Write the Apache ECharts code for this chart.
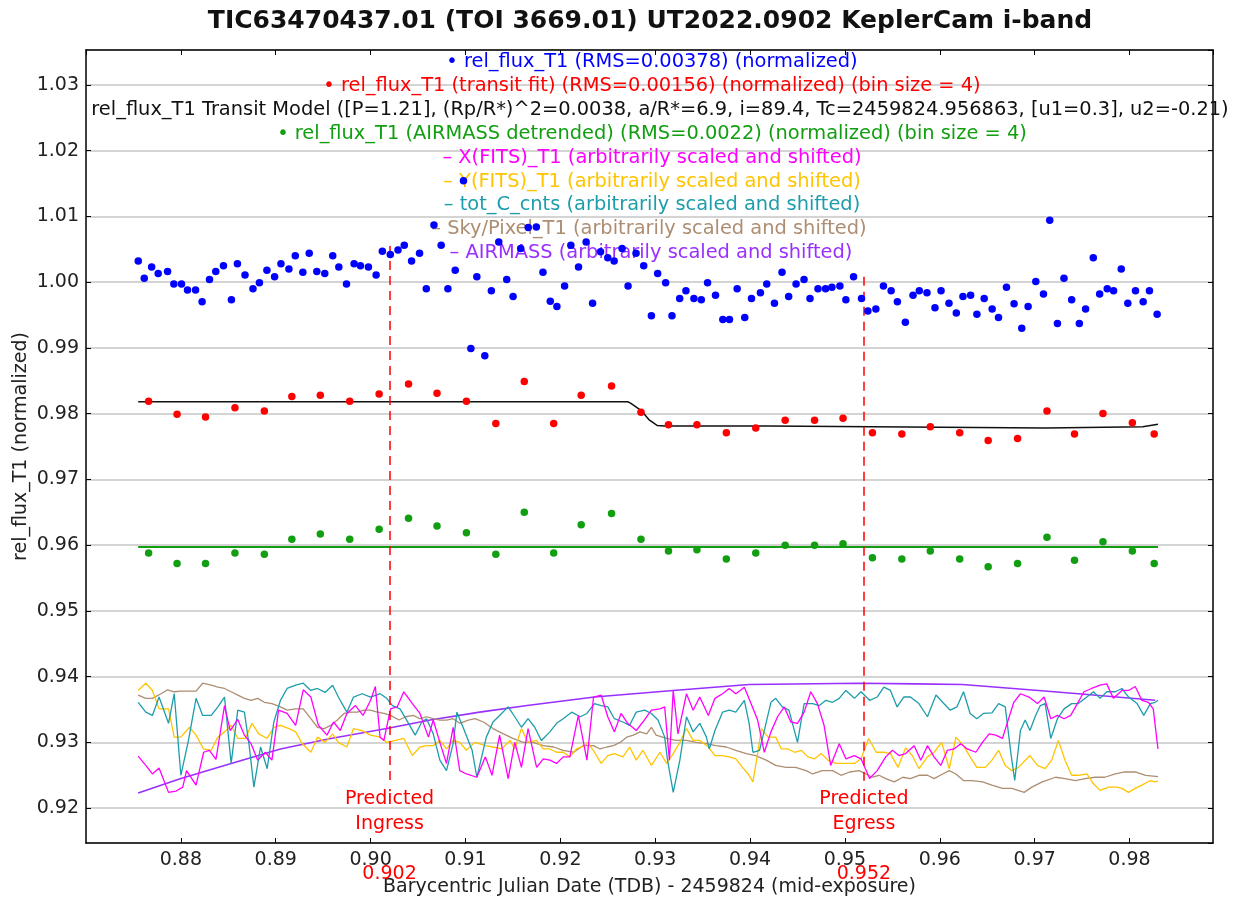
<!DOCTYPE html>
<html><head><meta charset="utf-8">
<script src="https://cdn.jsdelivr.net/npm/echarts@6/dist/echarts.min.js"></script>
<style>html,body{margin:0;padding:0;background:#fff}#c{width:1239px;height:905px}</style>
</head><body><div id="c"></div>
<script>
// ---------------- DATA ----------------
const chartTitle = 'TIC63470437.01 (TOI 3669.01) UT2022.0902 KeplerCam i-band';
const xAxisTitle = 'Barycentric Julian Date (TDB) - 2459824 (mid-exposure)';
const yAxisTitle = 'rel_flux_T1 (normalized)';
const predictedTimes = [0.902, 0.952];
const predictedLabels = ['Predicted\nIngress', 'Predicted\nEgress'];
const predictedTop = [1.0055, 1.0008];
const predictedBottom = 0.9238;

const timeObs = [0.87551,0.87614,0.87692,0.87761,0.87860,0.87926,0.88007,0.88070,0.88155,0.88224,
0.88302,0.88368,0.88449,0.88533,0.88596,0.88676,0.88760,0.88828,0.88907,0.88988,
0.89055,0.89139,0.89206,0.89286,0.89353,0.89433,0.89517,0.89601,0.89665,0.89746,
0.89826,0.89893,0.89977,0.90058,0.90124,0.90208,0.90289,0.90355,0.90432,0.90516,
0.90587,0.90668,0.90744,0.90815,0.90892,0.90979,0.91057,0.91120,0.91204,0.91273,
0.91351,0.91435,0.91502,0.91582,0.91662,0.91747,0.91817,0.91894,0.91964,0.92045,
0.92111,0.92192,0.92272,0.92340,0.92424,0.92500,0.92567,0.92651,0.92714,0.92798,
0.92879,0.92960,0.93026,0.93110,0.93177,0.93258,0.93324,0.93408,0.93486,0.93552,
0.93636,0.93713,0.93783,0.93864,0.93944,0.94015,0.94109,0.94176,0.94257,0.94337,
0.94407,0.94485,0.94569,0.94632,0.94716,0.94796,0.94863,0.94947,0.95010,0.95091,
0.95175,0.95242,0.95326,0.95406,0.95487,0.95553,0.95637,0.95718,0.95784,0.95865,
0.95949,0.96013,0.96097,0.96174,0.96244,0.96325,0.96391,0.96468,0.96552,0.96619,
0.96703,0.96783,0.96864,0.96931,0.97012,0.97093,0.97159,0.97240,0.97309,0.97390,
0.97471,0.97537,0.97618,0.97685,0.97765,0.97832,0.97913,0.97982,0.98063,0.98144,
0.98210,0.98291];

const relFlux = [1.0032,1.0006,1.0023,1.0013,1.0016,0.9997,0.9997,0.9988,0.9988,0.9970,
1.0004,1.0016,1.0025,0.9973,1.0028,1.0011,0.9990,0.9999,1.0018,1.0008,
1.0028,1.0020,1.0040,1.0015,1.0044,1.0016,1.0013,1.0040,1.0023,0.9997,
1.0028,1.0025,1.0023,1.0011,1.0047,1.0042,1.0049,1.0056,1.0032,1.0044,
0.9990,1.0087,1.0056,0.9990,1.0018,1.0154,0.9899,1.0008,0.9888,0.9987,
1.0061,1.0004,0.9978,1.0051,1.0083,1.0084,1.0015,0.9971,0.9963,0.9994,
1.0056,1.0023,1.0061,0.9968,1.0046,1.0037,1.0032,1.0051,0.9994,1.0044,
1.0025,0.9949,1.0013,0.9999,0.9949,0.9975,0.9987,0.9975,0.9973,0.9999,
0.9980,0.9943,0.9943,0.9990,0.9946,0.9975,0.9984,0.9997,0.9968,1.0015,
0.9978,0.9997,1.0004,0.9975,0.9990,0.9990,0.9992,0.9994,0.9973,1.0008,
0.9975,0.9956,0.9959,0.9994,0.9987,0.9970,0.9939,0.9980,0.9987,0.9984,
0.9961,0.9987,0.9968,0.9953,0.9978,0.9980,0.9951,0.9975,0.9959,0.9946,
0.9992,0.9967,0.9930,0.9963,1.0001,0.9982,1.0094,0.9937,1.0006,0.9973,
0.9937,0.9959,1.0037,0.9982,0.9990,0.9987,1.0020,0.9968,0.9987,0.9970,
0.9987,0.9951];

const binTime = [0.8766,0.8796,0.8826,0.8857,0.8888,0.8917,0.8947,0.8978,0.9009,0.9040,
0.9070,0.9101,0.9132,0.9162,0.9193,0.9222,0.9254,0.9285,0.9314,0.9344,
0.9375,0.9406,0.9437,0.9468,0.9498,0.9529,0.9560,0.9590,0.9621,0.9651,
0.9682,0.9713,0.9742,0.9772,0.9803,0.9826];
const binFlux = [0.9819,0.9799,0.9795,0.9809,0.9804,0.9826,0.9828,0.9819,0.9830,0.9845,
0.9831,0.9819,0.9785,0.9849,0.9785,0.9828,0.9842,0.9802,0.9783,0.9783,
0.9771,0.9778,0.9790,0.9790,0.9793,0.9771,0.9769,0.9780,0.9771,0.9759,
0.9762,0.9804,0.9769,0.9800,0.9786,0.9769];
const detrendedFlux = [0.9588,0.9572,0.9572,0.9588,0.9586,0.9609,0.9617,0.9609,0.9624,0.9641,
0.9629,0.9619,0.9586,0.9650,0.9588,0.9631,0.9648,0.9609,0.9591,0.9593,
0.9579,0.9588,0.9600,0.9600,0.9602,0.9581,0.9579,0.9591,0.9579,0.9567,
0.9572,0.9612,0.9577,0.9605,0.9591,0.9572];

const modelLine = [[0.8755,0.9818],[0.9271,0.9818],[0.9274,0.9816],[0.9285,0.9805],[0.9294,0.9790],
[0.9302,0.9782],[0.9310,0.9781],[0.9418,0.9781],[0.9420,0.9778],[0.9712,0.9778],[0.9714,0.9780],
[0.9814,0.9780],[0.9816,0.9783],[0.9830,0.9784]];
const detrendedModelLine = [[0.8755,0.9597],[0.9830,0.9597]];

const xFitsT1 = [[0.8755,0.9279],[0.8763,0.9265],[0.8770,0.9252],[0.8777,0.9261],[0.8787,0.9224],[0.8795,0.9226],
[0.8802,0.9232],[0.8806,0.9257],[0.8816,0.9235],[0.8824,0.9285],[0.8830,0.9288],[0.8837,0.9274],[0.8846,0.9356],
[0.8852,0.9318],[0.8860,0.9335],[0.8867,0.9311],[0.8874,0.9298],[0.8881,0.9273],[0.8889,0.9285],[0.8896,0.9273],
[0.8903,0.9349],[0.8912,0.9344],[0.8921,0.9326],[0.8929,0.9380],[0.8937,0.9369],[0.8945,0.9326],[0.8954,0.9311],
[0.8961,0.9331],[0.8968,0.9318],[0.8975,0.9344],[0.8984,0.9356],[0.8992,0.9341],[0.9000,0.9364],[0.9005,0.9385],
[0.9010,0.9308],[0.9014,0.9303],[0.9021,0.9351],[0.9028,0.9354],[0.9035,0.9377],[0.9044,0.9359],[0.9052,0.9344],
[0.9061,0.9308],[0.9066,0.9334],[0.9073,0.9300],[0.9080,0.9268],[0.9087,0.9323],[0.9094,0.9257],[0.9101,0.9252],
[0.9112,0.9247],[0.9121,0.9278],[0.9128,0.9250],[0.9136,0.9311],[0.9145,0.9245],[0.9152,0.9300],[0.9159,0.9262],
[0.9166,0.9321],[0.9175,0.9262],[0.9182,0.9275],[0.9189,0.9273],[0.9196,0.9268],[0.9203,0.9278],[0.9210,0.9278],
[0.9219,0.9341],[0.9228,0.9273],[0.9235,0.9369],[0.9243,0.9372],[0.9250,0.9339],[0.9257,0.9316],[0.9264,0.9344],
[0.9271,0.9329],[0.9280,0.9318],[0.9287,0.9331],[0.9296,0.9349],[0.9305,0.9351],[0.9310,0.9354],[0.9315,0.9273],
[0.9319,0.9379],[0.9324,0.9313],[0.9333,0.9374],[0.9340,0.9349],[0.9347,0.9369],[0.9356,0.9341],[0.9363,0.9367],
[0.9371,0.9374],[0.9378,0.9382],[0.9385,0.9374],[0.9394,0.9384],[0.9401,0.9359],[0.9408,0.9334],[0.9415,0.9285],
[0.9422,0.9316],[0.9429,0.9339],[0.9436,0.9354],[0.9443,0.9331],[0.9450,0.9329],[0.9457,0.9346],[0.9464,0.9377],
[0.9471,0.9359],[0.9478,0.9326],[0.9485,0.9265],[0.9494,0.9298],[0.9501,0.9275],[0.9510,0.9280],[0.9517,0.9275],
[0.9526,0.9245],[0.9534,0.9257],[0.9543,0.9278],[0.9550,0.9288],[0.9557,0.9280],[0.9564,0.9283],[0.9573,0.9295],
[0.9580,0.9273],[0.9587,0.9295],[0.9594,0.9278],[0.9601,0.9265],[0.9608,0.9288],[0.9615,0.9290],[0.9622,0.9298],
[0.9629,0.9290],[0.9638,0.9285],[0.9645,0.9300],[0.9652,0.9313],[0.9659,0.9311],[0.9666,0.9306],[0.9671,0.9329],
[0.9678,0.9361],[0.9685,0.9374],[0.9694,0.9369],[0.9703,0.9359],[0.9710,0.9369],[0.9717,0.9336],[0.9724,0.9341],
[0.9731,0.9336],[0.9738,0.9341],[0.9745,0.9359],[0.9752,0.9377],[0.9760,0.9382],[0.9769,0.9387],[0.9776,0.9389],
[0.9783,0.9367],[0.9792,0.9379],[0.9799,0.9379],[0.9806,0.9385],[0.9813,0.9364],[0.9820,0.9361],[0.9825,0.9351],
[0.9830,0.9290]];

const yFitsT1 = [[0.8755,0.9379],[0.8763,0.9390],[0.8770,0.9379],[0.8777,0.9351],[0.8787,0.9351],[0.8793,0.9308],
[0.8800,0.9308],[0.8809,0.9323],[0.8816,0.9311],[0.8824,0.9290],[0.8832,0.9288],[0.8839,0.9308],[0.8846,0.9316],
[0.8853,0.9326],[0.8860,0.9306],[0.8868,0.9306],[0.8875,0.9329],[0.8882,0.9313],[0.8891,0.9306],[0.8898,0.9323],
[0.8905,0.9326],[0.8914,0.9321],[0.8921,0.9316],[0.8928,0.9298],[0.8937,0.9285],[0.8944,0.9308],[0.8952,0.9300],
[0.8960,0.9313],[0.8966,0.9300],[0.8975,0.9293],[0.8982,0.9321],[0.8991,0.9318],[0.9000,0.9311],[0.9010,0.9308],
[0.9017,0.9300],[0.9026,0.9303],[0.9035,0.9306],[0.9044,0.9280],[0.9052,0.9293],[0.9059,0.9295],[0.9066,0.9295],
[0.9073,0.9303],[0.9080,0.9290],[0.9087,0.9303],[0.9094,0.9300],[0.9101,0.9288],[0.9110,0.9300],[0.9121,0.9295],
[0.9129,0.9293],[0.9138,0.9290],[0.9147,0.9303],[0.9152,0.9290],[0.9159,0.9321],[0.9166,0.9300],[0.9175,0.9303],
[0.9182,0.9290],[0.9189,0.9290],[0.9196,0.9285],[0.9203,0.9285],[0.9210,0.9278],[0.9217,0.9290],[0.9226,0.9295],
[0.9229,0.9300],[0.9236,0.9285],[0.9243,0.9268],[0.9250,0.9280],[0.9257,0.9283],[0.9266,0.9278],[0.9273,0.9293],
[0.9280,0.9273],[0.9287,0.9288],[0.9296,0.9265],[0.9305,0.9285],[0.9312,0.9268],[0.9319,0.9283],[0.9326,0.9300],
[0.9333,0.9321],[0.9340,0.9303],[0.9347,0.9303],[0.9356,0.9293],[0.9363,0.9280],[0.9371,0.9280],[0.9378,0.9278],
[0.9385,0.9275],[0.9392,0.9262],[0.9398,0.9252],[0.9403,0.9240],[0.9408,0.9283],[0.9412,0.9321],[0.9419,0.9308],
[0.9427,0.9308],[0.9433,0.9290],[0.9440,0.9290],[0.9447,0.9285],[0.9454,0.9288],[0.9461,0.9278],[0.9468,0.9275],
[0.9475,0.9283],[0.9482,0.9273],[0.9491,0.9268],[0.9497,0.9268],[0.9510,0.9268],[0.9517,0.9275],[0.9525,0.9306],
[0.9533,0.9285],[0.9541,0.9285],[0.9548,0.9283],[0.9556,0.9262],[0.9564,0.9292],[0.9571,0.9280],[0.9578,0.9260],
[0.9587,0.9278],[0.9594,0.9285],[0.9602,0.9300],[0.9610,0.9260],[0.9617,0.9308],[0.9625,0.9295],[0.9632,0.9278],
[0.9639,0.9262],[0.9648,0.9262],[0.9655,0.9273],[0.9662,0.9288],[0.9669,0.9265],[0.9676,0.9257],[0.9683,0.9262],
[0.9695,0.9280],[0.9703,0.9265],[0.9711,0.9260],[0.9718,0.9273],[0.9725,0.9303],[0.9732,0.9273],[0.9739,0.9250],
[0.9746,0.9250],[0.9755,0.9252],[0.9762,0.9237],[0.9769,0.9227],[0.9778,0.9232],[0.9787,0.9232],[0.9792,0.9230],
[0.9799,0.9224],[0.9806,0.9230],[0.9813,0.9235],[0.9822,0.9242],[0.9827,0.9240],[0.9830,0.9241]];

const totCCnts = [[0.8755,0.9361],[0.8763,0.9346],[0.8770,0.9341],[0.8777,0.9369],[0.8787,0.9329],[0.8793,0.9374],
[0.8800,0.9250],[0.8808,0.9303],[0.8816,0.9367],[0.8823,0.9341],[0.8832,0.9341],[0.8839,0.9354],[0.8846,0.9369],
[0.8853,0.9268],[0.8860,0.9349],[0.8867,0.9346],[0.8872,0.9295],[0.8877,0.9232],[0.8884,0.9293],[0.8891,0.9260],
[0.8898,0.9331],[0.8905,0.9364],[0.8912,0.9382],[0.8921,0.9387],[0.8929,0.9390],[0.8937,0.9379],[0.8944,0.9382],
[0.8952,0.9376],[0.8960,0.9387],[0.8966,0.9369],[0.8975,0.9346],[0.8982,0.9369],[0.8991,0.9374],[0.9000,0.9369],
[0.9010,0.9374],[0.9017,0.9367],[0.9023,0.9356],[0.9031,0.9351],[0.9040,0.9329],[0.9047,0.9311],[0.9054,0.9331],
[0.9059,0.9336],[0.9066,0.9313],[0.9073,0.9273],[0.9080,0.9257],[0.9087,0.9298],[0.9091,0.9346],[0.9098,0.9321],
[0.9107,0.9288],[0.9112,0.9247],[0.9122,0.9308],[0.9129,0.9331],[0.9136,0.9341],[0.9145,0.9354],[0.9152,0.9339],
[0.9159,0.9323],[0.9166,0.9336],[0.9173,0.9323],[0.9180,0.9303],[0.9189,0.9316],[0.9196,0.9329],[0.9203,0.9336],
[0.9212,0.9346],[0.9221,0.9339],[0.9228,0.9344],[0.9236,0.9359],[0.9243,0.9356],[0.9250,0.9354],[0.9257,0.9336],
[0.9266,0.9331],[0.9273,0.9326],[0.9280,0.9346],[0.9289,0.9349],[0.9296,0.9344],[0.9303,0.9334],[0.9310,0.9308],
[0.9313,0.9273],[0.9319,0.9224],[0.9326,0.9273],[0.9333,0.9339],[0.9340,0.9316],[0.9347,0.9329],[0.9354,0.9308],
[0.9357,0.9290],[0.9363,0.9318],[0.9371,0.9346],[0.9378,0.9349],[0.9385,0.9346],[0.9394,0.9364],[0.9399,0.9329],
[0.9403,0.9285],[0.9410,0.9288],[0.9415,0.9318],[0.9422,0.9361],[0.9427,0.9367],[0.9434,0.9354],[0.9441,0.9349],
[0.9450,0.9300],[0.9457,0.9359],[0.9466,0.9359],[0.9473,0.9356],[0.9480,0.9364],[0.9487,0.9361],[0.9494,0.9367],
[0.9501,0.9379],[0.9510,0.9367],[0.9517,0.9377],[0.9526,0.9364],[0.9534,0.9369],[0.9541,0.9384],[0.9548,0.9379],
[0.9555,0.9354],[0.9562,0.9369],[0.9569,0.9369],[0.9578,0.9359],[0.9587,0.9339],[0.9596,0.9372],[0.9603,0.9361],
[0.9611,0.9349],[0.9618,0.9354],[0.9625,0.9377],[0.9632,0.9344],[0.9639,0.9336],[0.9646,0.9344],[0.9655,0.9345],
[0.9662,0.9359],[0.9669,0.9354],[0.9675,0.9283],[0.9679,0.9242],[0.9685,0.9318],[0.9690,0.9334],[0.9695,0.9318],
[0.9701,0.9341],[0.9706,0.9356],[0.9711,0.9359],[0.9717,0.9306],[0.9724,0.9336],[0.9731,0.9351],[0.9739,0.9359],
[0.9746,0.9359],[0.9755,0.9369],[0.9762,0.9377],[0.9769,0.9367],[0.9776,0.9377],[0.9785,0.9377],[0.9792,0.9382],
[0.9799,0.9369],[0.9808,0.9359],[0.9815,0.9341],[0.9822,0.9359],[0.9827,0.9361],[0.9830,0.9364]];

const skyPixelT1 = [[0.8755,0.9372],[0.8763,0.9367],[0.8770,0.9367],[0.8779,0.9374],[0.8786,0.9380],[0.8793,0.9377],
[0.8800,0.9378],[0.8809,0.9378],[0.8816,0.9378],[0.8823,0.9390],[0.8832,0.9387],[0.8839,0.9384],[0.8846,0.9382],
[0.8853,0.9377],[0.8860,0.9372],[0.8867,0.9367],[0.8874,0.9364],[0.8881,0.9367],[0.8888,0.9361],[0.8896,0.9359],
[0.8905,0.9354],[0.8912,0.9349],[0.8921,0.9351],[0.8929,0.9351],[0.8937,0.9336],[0.8944,0.9323],[0.8951,0.9321],
[0.8958,0.9326],[0.8965,0.9334],[0.8972,0.9344],[0.8979,0.9346],[0.8986,0.9346],[0.8993,0.9349],[0.9000,0.9349],
[0.9007,0.9346],[0.9014,0.9344],[0.9021,0.9341],[0.9030,0.9334],[0.9037,0.9339],[0.9045,0.9341],[0.9052,0.9336],
[0.9059,0.9339],[0.9066,0.9336],[0.9073,0.9334],[0.9080,0.9334],[0.9087,0.9336],[0.9094,0.9329],[0.9103,0.9334],
[0.9110,0.9336],[0.9119,0.9331],[0.9129,0.9321],[0.9140,0.9313],[0.9150,0.9306],[0.9161,0.9300],[0.9171,0.9300],
[0.9182,0.9295],[0.9193,0.9293],[0.9203,0.9288],[0.9214,0.9285],[0.9224,0.9295],[0.9235,0.9295],[0.9242,0.9290],
[0.9249,0.9293],[0.9256,0.9295],[0.9263,0.9300],[0.9270,0.9308],[0.9277,0.9311],[0.9284,0.9316],[0.9291,0.9313],
[0.9296,0.9323],[0.9301,0.9311],[0.9312,0.9306],[0.9322,0.9303],[0.9333,0.9303],[0.9343,0.9300],[0.9354,0.9298],
[0.9364,0.9295],[0.9375,0.9293],[0.9385,0.9288],[0.9396,0.9283],[0.9406,0.9280],[0.9417,0.9273],[0.9427,0.9265],
[0.9438,0.9262],[0.9448,0.9262],[0.9459,0.9257],[0.9466,0.9252],[0.9476,0.9257],[0.9487,0.9257],[0.9496,0.9250],
[0.9505,0.9255],[0.9515,0.9257],[0.9522,0.9252],[0.9529,0.9247],[0.9536,0.9250],[0.9543,0.9245],[0.9552,0.9240],
[0.9561,0.9247],[0.9569,0.9245],[0.9578,0.9250],[0.9587,0.9250],[0.9594,0.9245],[0.9603,0.9252],[0.9610,0.9257],
[0.9617,0.9252],[0.9625,0.9242],[0.9634,0.9242],[0.9645,0.9240],[0.9655,0.9235],[0.9666,0.9230],[0.9676,0.9230],
[0.9689,0.9224],[0.9697,0.9232],[0.9708,0.9240],[0.9722,0.9247],[0.9732,0.9245],[0.9743,0.9242],[0.9753,0.9245],
[0.9764,0.9247],[0.9774,0.9247],[0.9785,0.9252],[0.9795,0.9255],[0.9806,0.9255],[0.9817,0.9250],[0.9830,0.9248]];

const airmass = [[0.8755,0.9223],[0.8800,0.9245],[0.8853,0.9268],[0.8905,0.9290],[0.8958,0.9306],[0.9017,0.9321],
[0.9063,0.9334],[0.9115,0.9346],[0.9165,0.9356],[0.9236,0.9369],[0.9319,0.9379],[0.9399,0.9388],[0.9515,0.9390],
[0.9575,0.9389],[0.9624,0.9388],[0.9704,0.9379],[0.9746,0.9374],[0.9827,0.9364]];

const legendTexts = [
  '\u2022 rel_flux_T1 (RMS=0.00378) (normalized)',
  '\u2022 rel_flux_T1 (transit fit) (RMS=0.00156) (normalized) (bin size = 4)',
  'rel_flux_T1 Transit Model ([P=1.21], (Rp/R*)^2=0.0038, a/R*=6.9, i=89.4, Tc=2459824.956863, [u1=0.3], u2=-0.21)',
  '\u2022 rel_flux_T1 (AIRMASS detrended) (RMS=0.0022) (normalized) (bin size = 4)',
  '\u2013 X(FITS)_T1 (arbitrarily scaled and shifted)',
  '\u2013 Y(FITS)_T1 (arbitrarily scaled and shifted)',
  '\u2013 tot_C_cnts (arbitrarily scaled and shifted)',
  '\u2013 Sky/Pixel_T1 (arbitrarily scaled and shifted)',
  '\u2013 AIRMASS (arbitrarily scaled and shifted)'
];

// ---------------- STYLE ----------------
const FONT = 'DejaVu Sans';
const FS = 19;
const LEGEND_FS = 19.4;
const C = {
  blue:'#0000ff', red:'#ff0000', black:'#111111', green:'#119f11', magenta:'#ff00ff',
  gold:'#ffc400', teal:'#1d9dab', tan:'#ad8e72', purple:'#9a30ff'
};
const legendColors = [C.blue, C.red, C.black, C.green, C.magenta, C.gold, C.teal, C.tan, C.purple];
const legendCenters = [652, 652, 660, 652, 652, 652, 652, 649, 651];
const X_MIN = 0.87, X_MAX = 0.9888, Y_MIN = 0.9147, Y_MAX = 1.0353;

const zip = (xs, ys) => xs.map((x, i) => [x, ys[i]]);

const chart = echarts.init(document.getElementById('c'), null, {renderer:'canvas'});

const lineSeries = (name, data, color, width) => ({
  name, type:'line', data, xAxisIndex:0, yAxisIndex:0, showSymbol:false, symbol:'none',
  lineStyle:{color, width: width || 1.3}, z:2, silent:true, animation:false
});
const scatterSeries = (name, data, color) => ({
  name, type:'scatter', data, xAxisIndex:0, yAxisIndex:0, symbol:'circle', symbolSize:7.5,
  itemStyle:{color, opacity:1}, z:5, silent:true, animation:false
});

const commonX = {type:'value', min:X_MIN, max:X_MAX, minInterval:0.01, maxInterval:0.01, splitLine:{show:false}};
const commonY = {type:'value', min:Y_MIN, max:Y_MAX, minInterval:0.01, maxInterval:0.01};

const option = {
  backgroundColor:'#ffffff',
  animation:false,
  title:{
    text: chartTitle, left: 645, top: 4, textAlign:'center',
    textStyle:{fontFamily:FONT, fontSize:25, fontWeight:'bold', color:'#111'}
  },
  grid:{left:86, right:26, top:50, bottom:62, containLabel:false},
  xAxis:[
    Object.assign({}, commonX, {
      position:'bottom',
      axisLine:{show:true, onZero:false, lineStyle:{color:'#000', width:1.5}},
      axisTick:{show:true, inside:true, length:5, lineStyle:{color:'#000', width:1}},
      axisLabel:{show:true, showMinLabel:false, showMaxLabel:false, margin:8,
        formatter:v => v.toFixed(2), fontFamily:FONT, fontSize:FS, color:'#222'},
      name:xAxisTitle, nameLocation:'middle', nameGap:35,
      nameTextStyle:{fontFamily:FONT, fontSize:FS, color:'#222'}
    }),
    Object.assign({}, commonX, {
      position:'top',
      axisLine:{show:true, onZero:false, lineStyle:{color:'#000', width:1.5}},
      axisTick:{show:true, inside:true, length:5, lineStyle:{color:'#000', width:1}},
      axisLabel:{show:false}
    }),
    Object.assign({}, commonX, {
      position:'bottom',
      axisLine:{show:false}, axisTick:{show:false},
      axisLabel:{show:true, customValues:predictedTimes, margin:22,
        formatter:v => v.toFixed(3), fontFamily:FONT, fontSize:FS, color:C.red}
    })
  ],
  yAxis:[
    Object.assign({}, commonY, {
      position:'left',
      splitLine:{show:true, lineStyle:{color:'#c6c6c6', width:1.5}},
      axisLine:{show:true, onZero:false, lineStyle:{color:'#000', width:1.5}},
      axisTick:{show:true, inside:true, length:5, lineStyle:{color:'#000', width:1}},
      axisLabel:{show:true, showMinLabel:false, showMaxLabel:false, margin:7,
        formatter:v => v.toFixed(2), fontFamily:FONT, fontSize:FS, color:'#222'},
      name:yAxisTitle, nameLocation:'middle', nameGap:55, nameRotate:90, nameMoveOverlap:false,
      nameTextStyle:{fontFamily:FONT, fontSize:FS, color:'#222'}
    }),
    Object.assign({}, commonY, {
      position:'right',
      splitLine:{show:false},
      axisLine:{show:true, onZero:false, lineStyle:{color:'#000', width:1.5}},
      axisTick:{show:true, inside:true, length:5, lineStyle:{color:'#000', width:1}},
      axisLabel:{show:false}
    })
  ],
  graphic: legendTexts.map((t, i) => ({
    type:'text', z:1, silent:true,
    x: legendCenters[i], y: 62 + i * 23.9,
    style:{text:t, fill:legendColors[i], font:LEGEND_FS + 'px "' + FONT + '"', textAlign:'center', textVerticalAlign:'middle'}
  })),
  series:[
    lineSeries('AIRMASS', airmass, C.purple, 1.6),
    lineSeries('Sky/Pixel_T1', skyPixelT1, C.tan, 1.3),
    lineSeries('Y(FITS)_T1', yFitsT1, C.gold, 1.3),
    lineSeries('tot_C_cnts', totCCnts, C.teal, 1.3),
    lineSeries('X(FITS)_T1', xFitsT1, C.magenta, 1.3),
    Object.assign(lineSeries('rel_flux_T1 detrended model', detrendedModelLine, C.green, 2), {z:3}),
    Object.assign(lineSeries('rel_flux_T1 Transit Model', modelLine, C.black, 1.5), {
      z:3,
      markLine:{
        silent:true, symbol:['none','none'], animation:false,
        lineStyle:{color:C.red, type:[9,6], width:1.5},
        label:{show:true, position:'end', distance:3, color:C.red, fontFamily:FONT, fontSize:FS, lineHeight:25},
        data: predictedTimes.map((t, i) => [
          {coord:[t, predictedTop[i]], label:{formatter:predictedLabels[i]}},
          {coord:[t, predictedBottom]}
        ])
      }
    }),
    scatterSeries('rel_flux_T1', zip(timeObs, relFlux), C.blue),
    scatterSeries('rel_flux_T1 (transit fit)', zip(binTime, binFlux), C.red),
    scatterSeries('rel_flux_T1 (AIRMASS detrended)', zip(binTime, detrendedFlux), C.green)
  ]
};
chart.setOption(option);
</script></body></html>
